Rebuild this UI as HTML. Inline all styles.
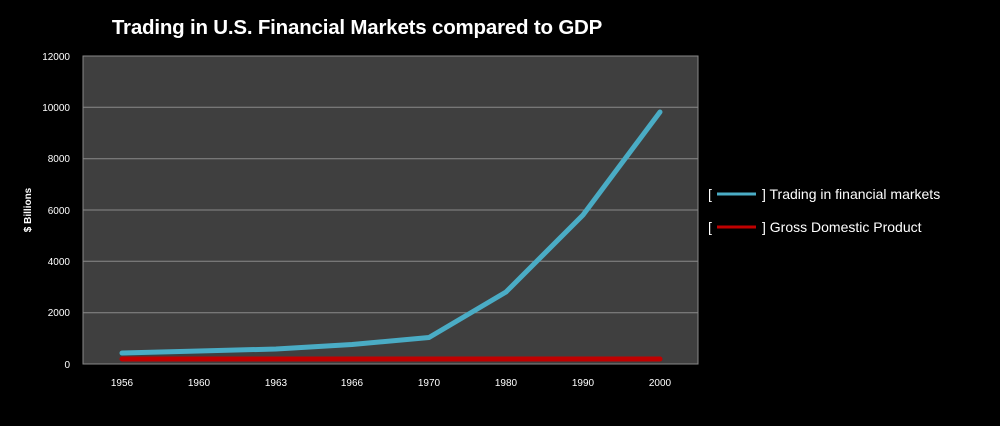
<!DOCTYPE html>
<html><head><meta charset="utf-8"><style>
body{margin:0;background:#000;width:1000px;height:421px;overflow:hidden;font-family:"Liberation Sans",sans-serif}
</style></head><body>
<svg width="1000" height="421" xmlns="http://www.w3.org/2000/svg">
<rect width="1000" height="421" fill="#000"/>
<text x="357" y="34" fill="#fff" font-size="20.5" font-weight="bold" text-anchor="middle" letter-spacing="-0.2" font-family="Liberation Sans">Trading in U.S. Financial Markets compared to GDP</text>
<rect x="83" y="56" width="615" height="308" fill="#3f3f3f" stroke="#888" stroke-width="1"/>
<g stroke="#8a8a8a" stroke-width="1">
<line x1="83" x2="698" y1="107.3" y2="107.3"/>
<line x1="83" x2="698" y1="158.7" y2="158.7"/>
<line x1="83" x2="698" y1="210" y2="210"/>
<line x1="83" x2="698" y1="261.3" y2="261.3"/>
<line x1="83" x2="698" y1="312.7" y2="312.7"/>
</g>
<g fill="#fff" font-size="10" text-anchor="end">
<text x="70" y="60">12000</text><text x="70" y="111">10000</text><text x="70" y="162">8000</text>
<text x="70" y="214">6000</text><text x="70" y="265">4000</text><text x="70" y="316">2000</text><text x="70" y="368">0</text>
</g>
<text transform="translate(31,210) rotate(-90)" fill="#fff" font-size="10" font-weight="bold" text-anchor="middle">$ Billions</text>
<g fill="#fff" font-size="10" text-anchor="middle">
<text x="122" y="386">1956</text><text x="199" y="386">1960</text><text x="276" y="386">1963</text><text x="352" y="386">1966</text>
<text x="429" y="386">1970</text><text x="506" y="386">1980</text><text x="583" y="386">1990</text><text x="660" y="386">2000</text>
</g>
<polyline points="122,359 660,359" fill="none" stroke="#c00000" stroke-width="5" stroke-linecap="round"/>
<polyline points="122,353 199,351 276,349 352,344.5 429,337.5 506,292 583,215 660,112" fill="none" stroke="#4aacc5" stroke-width="5" stroke-linecap="round" stroke-linejoin="round"/>
<g fill="#fff" font-size="14">
<text x="708" y="199">[</text><text x="762" y="199">] Trading in financial markets</text>
<text x="708" y="232">[</text><text x="762" y="232">]  Gross Domestic Product</text>
</g>
<line x1="717" x2="756" y1="194" y2="194" stroke="#4aacc5" stroke-width="3"/>
<line x1="717" x2="756" y1="227" y2="227" stroke="#c00000" stroke-width="3"/>
</svg>
</body></html>
